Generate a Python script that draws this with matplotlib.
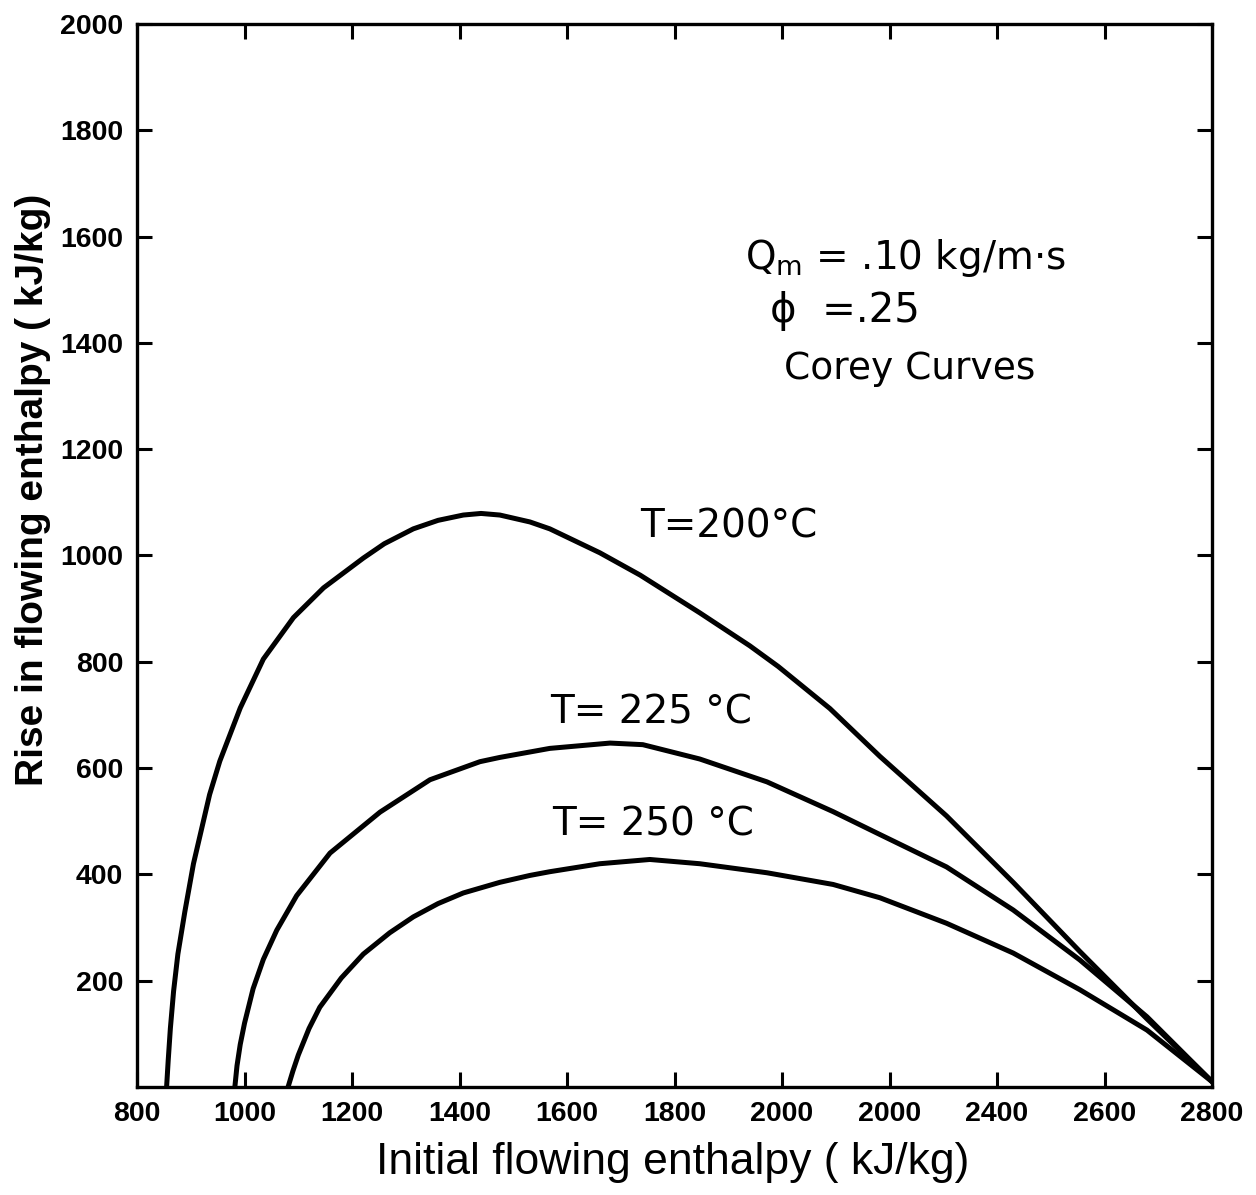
import matplotlib
matplotlib.use("Agg")
import matplotlib.pyplot as plt
from matplotlib.ticker import FixedLocator, FixedFormatter

# curves: initial enthalpy (kJ/kg) vs rise (kJ/kg)
h200 = [855, 858, 862, 868, 876, 889, 905, 917, 935, 954, 992, 1035, 1091,
        1147, 1221, 1260, 1314, 1360, 1407, 1440, 1475, 1531, 1568, 1661,
        1736, 1847, 1940, 1993, 2089, 2182, 2306, 2430, 2554, 2679, 2800]
dh200 = [0, 50, 110, 180, 250, 330, 420, 472, 550, 613, 713, 805, 883,
         939, 995, 1022, 1050, 1066, 1076, 1079, 1076, 1063, 1050, 1005,
         963, 892, 830, 791, 712, 622, 510, 385, 255, 128, 10]

h225 = [982, 986, 992, 1000, 1016, 1035, 1060, 1097, 1159, 1252, 1345, 1438,
        1475, 1568, 1680, 1741, 1847, 1972, 2095, 2182, 2306, 2430, 2554,
        2679, 2800]
dh225 = [0, 40, 80, 120, 185, 240, 295, 360, 440, 517, 578, 612,
         620, 637, 647, 644, 617, 574, 518, 475, 414, 333, 239,
         132, 10]

h250 = [1081, 1090, 1100, 1120, 1140, 1180, 1221, 1270, 1314, 1360, 1407,
        1475, 1531, 1568, 1661, 1754, 1847, 1972, 2095, 2182, 2306, 2430,
        2554, 2679, 2800]
dh250 = [0, 30, 60, 110, 150, 205, 250, 290, 320, 345, 365,
         385, 398, 405, 420, 428, 420, 403, 381, 356, 308, 252,
         183, 107, 10]

curve_labels = ["T=200°C", "T= 225 °C", "T= 250 °C"]
label_pos = [(1901, 1054), (1756, 704), (1760, 493)]

x_ticks = [800, 1000, 1200, 1400, 1600, 1800, 2000, 2200, 2400, 2600, 2800]
x_ticklabels = ["800", "1000", "1200", "1400", "1600", "1800", "2000",
                "2000", "2400", "2600", "2800"]
y_ticks = [200, 400, 600, 800, 1000, 1200, 1400, 1600, 1800, 2000]
y_ticklabels = [str(v) for v in y_ticks]

fig = plt.figure(figsize=(12.56, 11.95), dpi=100)
ax = fig.add_axes([0.1091, 0.0904, 0.965 - 0.1091, 0.980 - 0.0904])

for h, dh in [(h200, dh200), (h225, dh225), (h250, dh250)]:
    ax.plot(h, dh, color="black", lw=3.6, solid_capstyle="round",
            solid_joinstyle="round")

ax.set_xlim(800, 2800)
ax.set_ylim(0, 2000)

ax.xaxis.set_major_locator(FixedLocator(x_ticks))
ax.xaxis.set_major_formatter(FixedFormatter(x_ticklabels))
ax.yaxis.set_major_locator(FixedLocator(y_ticks))
ax.yaxis.set_major_formatter(FixedFormatter(y_ticklabels))
ax.tick_params(direction="in", length=11, width=2.2, top=True, right=True,
               labelsize=20.5, pad=10)
for lab in ax.get_xticklabels() + ax.get_yticklabels():
    lab.set_family("Liberation Sans")
    lab.set_fontweight("bold")

for sp in ax.spines.values():
    sp.set_linewidth(2.4)

ax.set_xlabel("Initial flowing enthalpy ( kJ/kg)", fontsize=32,
              family="Liberation Sans")
ax.xaxis.set_label_coords(0.498, -0.052)
ax.set_ylabel("Rise in flowing enthalpy ( kJ/kg)", fontsize=28,
              family="Liberation Sans", fontweight="bold")
ax.yaxis.set_label_coords(-0.08, 0.562)

for txt, (x, y) in zip(curve_labels, label_pos):
    ax.text(x, y, txt, fontsize=28, ha="center", va="center")

ax.text(2230, 1560, r"Q$_{\mathrm{m}}$ = .10 kg/m·s", fontsize=28,
        ha="center", va="center")
ax.text(2117, 1460, "ϕ  =.25", fontsize=29, ha="center", va="center")
ax.text(2238, 1350, "Corey Curves", fontsize=27, ha="center", va="center")

fig.savefig("out.png", dpi=100)
